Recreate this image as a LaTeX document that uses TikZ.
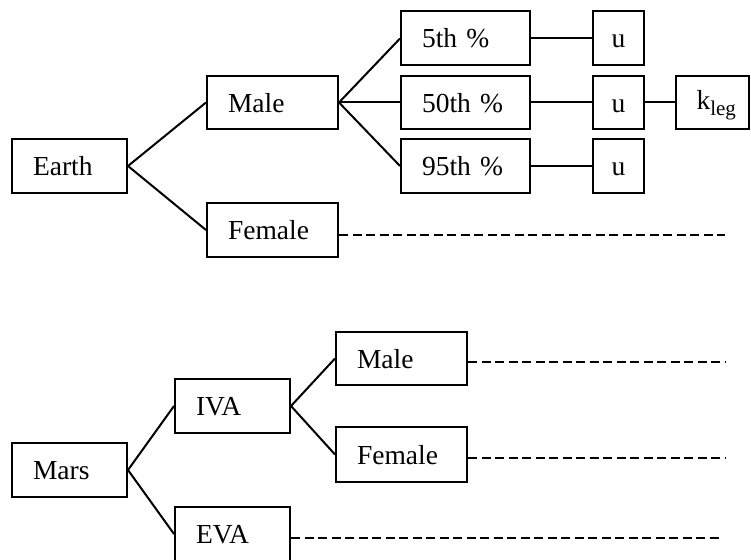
\documentclass[tikz,border=0pt]{standalone}
\usepackage{fontspec}
\setmainfont{Liberation Serif}
\begin{document}
\begin{tikzpicture}[x=1pt,y=-1pt,
  lbl/.style={draw, line width=2pt, minimum height=54pt, inner xsep=21pt, inner ysep=0pt,
    text height=19pt, text depth=0pt, align=left, font=\fontsize{27.5}{30}\selectfont},
  ubox/.style={lbl, inner xsep=0pt, text width=51pt, align=center},
  conn/.style={line width=2pt},
  dconn/.style={line width=2pt, dash pattern=on 9pt off 4.5pt}]
\clip (0,0) rectangle (751,559);
\useasboundingbox (0,0) rectangle (751,559);
% Earth tree
\node[lbl, text width=73pt] (earth) at (69.5,166) {Earth};
\node[lbl, text width=89pt, minimum height=53pt] (male) at (272.5,102.5) {Male};
\node[lbl, text width=89pt] (female) at (272.5,230) {Female};
\node[lbl, text width=87pt] (p5) at (465.5,38.5) {5th \%};
\node[lbl, text width=87pt, minimum height=53pt] (p50) at (465.5,102.5) {50th \%};
\node[lbl, text width=87pt] (p95) at (465.5,166) {95th \%};
\node[ubox] (u1) at (618.5,38.5) {u};
\node[ubox, minimum height=53pt] (u2) at (618.5,102.5) {u};
\node[ubox] (u3) at (618.5,166) {u};
\node[lbl, text width=31pt, minimum height=53pt, text height=14pt] (kleg) at (712,102.5)
  {k\raisebox{-6pt}{\fontsize{21}{24}\selectfont leg}};
\coordinate (fend) at (725,235);
\draw[conn] (earth.east) -- (male.west);
\draw[conn] (earth.east) -- (female.west);
\draw[conn] (male.east) -- (p5.west);
\draw[conn] (male.east) -- (p50.west);
\draw[conn] (male.east) -- (p95.west);
\draw[conn] (p5.east) -- (u1.west);
\draw[conn] (p50.east) -- (u2.west);
\draw[conn] (p95.east) -- (u3.west);
\draw[conn] (u2.east) -- (kleg.west);
\draw[dconn] ([yshift=-5pt]female.east) -- (fend);
% Mars tree
\node[lbl, text width=73pt] (mars) at (69.5,470) {Mars};
\node[lbl, text width=73pt] (iva) at (232.5,406) {IVA};
\node[lbl, text width=73pt] (eva) at (232.5,534) {EVA};
\node[lbl, text width=89pt, minimum height=53pt] (imale) at (401.5,358.5) {Male};
\node[lbl, text width=89pt, minimum height=55pt] (ifemale) at (401.5,454.5) {Female};
\coordinate (mend) at (725,362);
\coordinate (ifend) at (725,458);
\coordinate (eend) at (720,538);
\draw[conn] (mars.east) -- (iva.west);
\draw[conn] (mars.east) -- (eva.west);
\draw[conn] (iva.east) -- (imale.west);
\draw[conn] (iva.east) -- (ifemale.west);
\draw[dconn] ([yshift=-3.5pt]imale.east) -- (mend);
\draw[dconn] ([yshift=-3.5pt]ifemale.east) -- (ifend);
\draw[dconn] ([yshift=-4pt]eva.east) -- (eend);
\end{tikzpicture}
\end{document}
